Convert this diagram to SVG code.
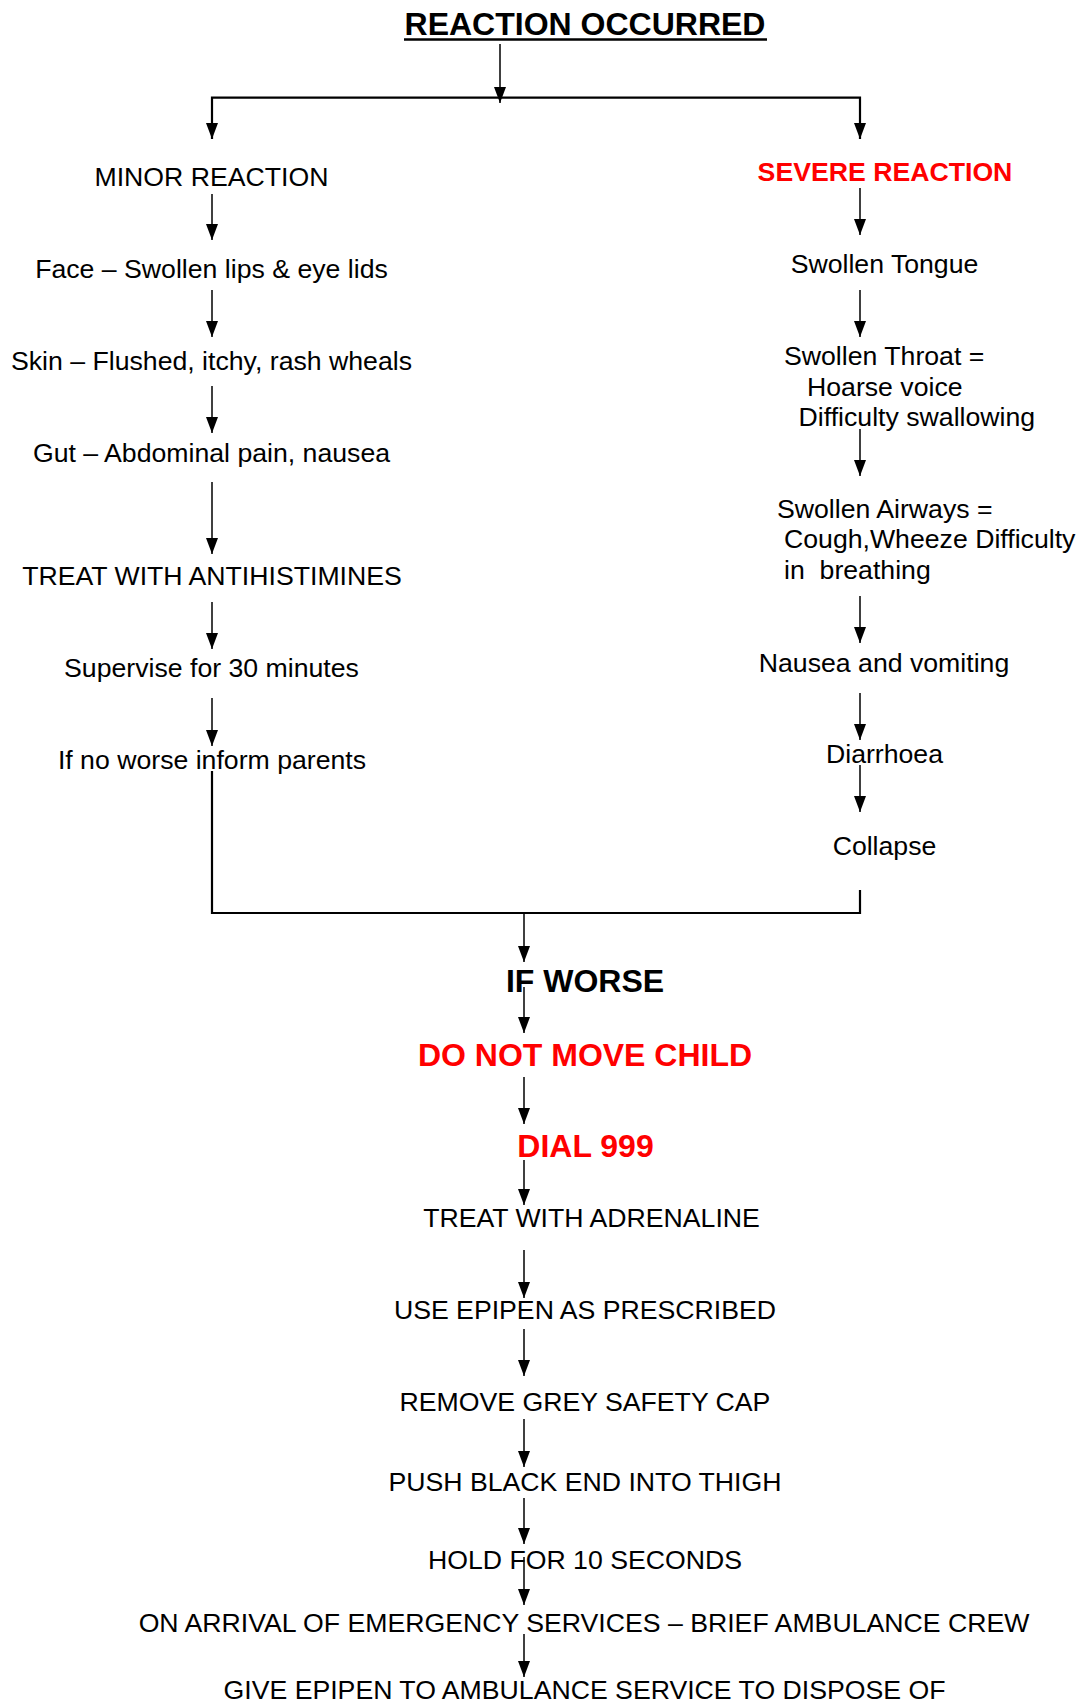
<svg xmlns="http://www.w3.org/2000/svg" width="1080" height="1701" viewBox="0 0 1080 1701">
<style>
text{font-family:"Liberation Sans",Arial,sans-serif;font-size:26.67px;fill:#000}
.c{text-anchor:middle}
.b{font-weight:bold;font-size:32px}
.r{fill:#FF0000}
.sb{font-weight:bold;font-size:26.67px}
.ln{stroke:#000;stroke-width:1.5;fill:none}
.ar{stroke:#000;stroke-width:1.5;fill:none;marker-end:url(#ah)}
.hz{stroke:#000;stroke-width:2.2;fill:none}
</style>
<defs>
<marker id="ah" markerUnits="userSpaceOnUse" markerWidth="16" markerHeight="12" refX="16" refY="6" orient="auto" viewBox="0 0 16 12">
<path d="M0,0 L16,6 L0,12 z" fill="#000"/>
</marker>
</defs>
<rect width="1080" height="1701" fill="#fff"/>
<g id="connectors">
<line class="ar" x1="500" y1="44" x2="500" y2="103"/>
<polyline class="hz" points="212,139 212,97.7 860,97.7 860,139"/>
<line class="ar" x1="212" y1="110" x2="212" y2="139"/>
<line class="ar" x1="860" y1="110" x2="860" y2="139"/>
<line class="ar" x1="212" y1="194" x2="212" y2="240"/>
<line class="ar" x1="212" y1="290" x2="212" y2="337"/>
<line class="ar" x1="212" y1="386" x2="212" y2="433"/>
<line class="ar" x1="212" y1="482" x2="212" y2="554"/>
<line class="ar" x1="212" y1="602" x2="212" y2="649"/>
<line class="ar" x1="212" y1="698" x2="212" y2="746"/>
<line class="ar" x1="860" y1="188" x2="860" y2="235"/>
<line class="ar" x1="860" y1="290" x2="860" y2="337"/>
<line class="ar" x1="860" y1="429" x2="860" y2="476"/>
<line class="ar" x1="860" y1="596" x2="860" y2="643"/>
<line class="ar" x1="860" y1="693" x2="860" y2="740"/>
<line class="ar" x1="860" y1="765" x2="860" y2="812"/>
<polyline class="hz" points="212,771 212,913 860,913 860,890"/>
<line class="ar" x1="524" y1="913" x2="524" y2="962"/>
<line class="ar" x1="524" y1="987" x2="524" y2="1033"/>
<line class="ar" x1="524" y1="1077" x2="524" y2="1124"/>
<line class="ar" x1="524" y1="1160" x2="524" y2="1205"/>
<line class="ar" x1="524" y1="1250" x2="524" y2="1298"/>
<line class="ar" x1="524" y1="1329" x2="524" y2="1376"/>
<line class="ar" x1="524" y1="1419" x2="524" y2="1467"/>
<line class="ar" x1="524" y1="1498" x2="524" y2="1544"/>
<line class="ar" x1="524" y1="1557" x2="524" y2="1605"/>
<line class="ar" x1="524" y1="1634" x2="524" y2="1677"/>
</g>
<g id="title">
<text class="c b" x="585" y="35">REACTION OCCURRED</text>
<line x1="404" y1="39.5" x2="767" y2="39.5" stroke="#000" stroke-width="2.6"/>
</g>
<g id="minor"><text class="c" x="211.5" y="186">MINOR REACTION</text></g>
<g id="face"><text class="c" x="211.5" y="277.5">Face – Swollen lips &amp; eye lids</text></g>
<g id="skin"><text class="c" x="211.5" y="370">Skin – Flushed, itchy, rash wheals</text></g>
<g id="gut"><text class="c" x="211.5" y="461.7">Gut – Abdominal pain, nausea</text></g>
<g id="antihistamines"><text class="c" x="212" y="585">TREAT WITH ANTIHISTIMINES</text></g>
<g id="supervise"><text class="c" x="211.5" y="677.3">Supervise for 30 minutes</text></g>
<g id="noworse"><text class="c" x="212" y="769">If no worse inform parents</text></g>
<g id="severe"><text class="c sb r" x="885" y="181">SEVERE REACTION</text></g>
<g id="tongue"><text class="c" x="884.5" y="272.7">Swollen Tongue</text></g>
<g id="throat">
<text x="784" y="365">Swollen Throat =</text>
<text x="807" y="396">Hoarse voice</text>
<text x="798.6" y="426">Difficulty swallowing</text>
</g>
<g id="airways">
<text x="777" y="518.3">Swollen Airways =</text>
<text x="784" y="548.3">Cough,Wheeze Difficulty</text>
<text x="784" y="579.3" xml:space="preserve">in  breathing</text>
</g>
<g id="nausea"><text class="c" x="884" y="671.7">Nausea and vomiting</text></g>
<g id="diarrhoea"><text class="c" x="884.5" y="763.3">Diarrhoea</text></g>
<g id="collapse"><text class="c" x="884.5" y="855">Collapse</text></g>
<g id="ifworse"><text class="c b" x="585" y="991.7">IF WORSE</text></g>
<g id="donotmove"><text class="c b r" x="585" y="1065.7">DO NOT MOVE CHILD</text></g>
<g id="dial"><text class="c b r" x="585.5" y="1157.3">DIAL 999</text></g>
<g id="adrenaline"><text class="c" x="591.5" y="1226.7">TREAT WITH ADRENALINE</text></g>
<g id="epipen"><text class="c" x="585" y="1319">USE EPIPEN AS PRESCRIBED</text></g>
<g id="cap"><text class="c" x="585" y="1410.7">REMOVE GREY SAFETY CAP</text></g>
<g id="push"><text class="c" x="585" y="1491">PUSH BLACK END INTO THIGH</text></g>
<g id="hold"><text class="c" x="585" y="1569.3">HOLD FOR 10 SECONDS</text></g>
<g id="arrival"><text class="c" x="584" y="1631.7">ON ARRIVAL OF EMERGENCY SERVICES – BRIEF AMBULANCE CREW</text></g>
<g id="give"><text class="c" x="584.5" y="1699">GIVE EPIPEN TO AMBULANCE SERVICE TO DISPOSE OF</text></g>
</svg>
